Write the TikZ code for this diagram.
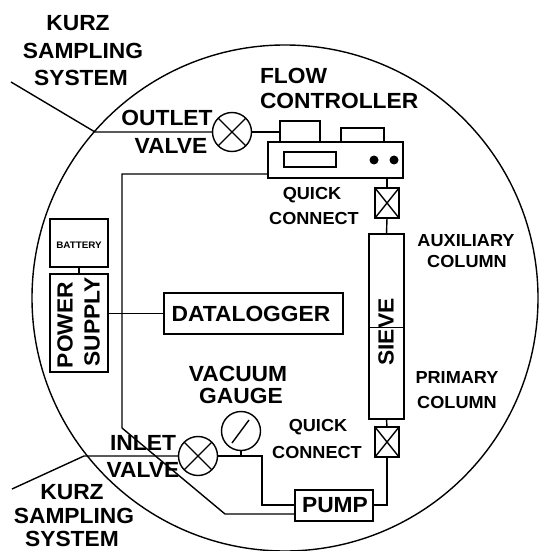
\documentclass[tikz,border=0pt]{standalone}
\usepackage{fontspec}
\setmainfont{Liberation Sans}[BoldFont={Liberation Sans Bold},FakeStretch=1.04]
\usetikzlibrary{calc}
\tikzset{
  every node/.style={inner sep=0pt,outer sep=0pt},
  ln/.style={line width=1.4bp,black},
  big/.style={font=\fontsize{22}{22}\selectfont\bfseries},
  mid/.style={font=\fontsize{17.5}{17.5}\selectfont\bfseries},
  box/.style={draw,ln,rectangle,anchor=north west},
  rnd/.style={draw,ln,circle,minimum size=39bp},
  qc/.style={draw,ln,rectangle,minimum width=24bp,minimum height=30bp},
}
\newcommand{\bx}[6][]{\node[box,#1,minimum width=#4bp,minimum height=#5bp] (#2) at (#3) {#6};}
\begin{document}
\begin{tikzpicture}[x=1bp,y=-1bp]
\useasboundingbox (0,0) rectangle (540,551);
% enclosing circle
\node[draw,ln,circle,minimum size=506bp] (ring) at (285,298) {};
% free ends and junctions
\coordinate (k1) at (11,82);
\coordinate (j1) at (95,132);
\coordinate (k2) at (12,489);
\coordinate (j2) at (84,456);
% valves and gauge
\node[rnd] (ov) at (232,132) {};
\node[rnd] (iv) at (198,456) {};
\node[rnd] (vg) at (241,431) {};
\draw[ln] (ov.north east)--(ov.south west) (ov.north west)--(ov.south east);
\draw[ln] (iv.north east)--(iv.south west) (iv.north west)--(iv.south east);
\draw[ln] ($(vg)+(-9,12)$)--($(vg)+(8,-11)$);
% flow controller
\bx{fc}{268,142}{135}{36}{}
\bx{fb1}{280,121}{40}{21}{}
\bx{fb2}{341,128}{43}{14}{}
\bx{fd}{284,152}{52}{15}{}
\fill (374,160) circle (4.5) (394,160) circle (4.5);
% quick connects
\node[qc] (q1) at (387,203) {};
\node[qc] (q2) at (387,442) {};
\draw[ln] (q1.north west)--(q1.south east) (q1.north east)--(q1.south west);
\draw[ln] (q2.north west)--(q2.south east) (q2.north east)--(q2.south west);
% sieve
\bx{sv}{369,234}{35}{185}{}
\draw[ln,line width=0.8bp] (sv.west|-0,327)--(sv.east|-0,327);
\node[big,rotate=90] (svt) at (386,332) {SIEVE};
% power
\bx{bat}{50,219}{58}{48}{}
\bx{ps}{50,274}{58}{98}{}
\node[font=\fontsize{9.5}{9.5}\selectfont\bfseries] (batt) at (79,245) {BATTERY};
\node[big,rotate=90] (pw) at (65,325) {POWER};
\node[big,rotate=90] (su) at (92,322) {SUPPLY};
% datalogger, pump
\bx{dl}{164,293}{179}{41}{}
\node[big] (dlt) at (251,314) {DATALOGGER};
\bx{pu}{295,490}{78}{31}{}
\node[big] (put) at (335,505) {PUMP};
% connectors
\draw[ln] (k1)--(j1)--(ov.west);
\draw[ln] (k2)--(j2)--(iv.west);
\draw[ln] (ov.east)--(fb1.west|-ov.east);
\draw[ln] (bat.south)--(ps.north);
\draw[ln] (ps.east|-dl.west)--(dl.west);
\draw[ln] (fc.west|-0,174)--(122,174)--(122,428)--(225,514)--(pu.west|-0,514);
\draw[ln] (iv.east)--(262,456)--(262,505)--(pu.west|-0,505);
\draw[ln] (vg.south)--(vg.south|-iv.east);
\draw[ln] (pu.east|-0,505)--(387,505)--(q2.south);
\draw[ln] (q2.north)--(sv.south);
\draw[ln] (sv.north)--(q1.south);
\draw[ln] (q1.north)--(fc.south-|q1.north);
% labels
\node[big] (a1) at (78,23) {KURZ};
\node[big] (a2) at (83,51) {SAMPLING};
\node[big] (a3) at (81,78) {SYSTEM};
\node[big,anchor=west] (b1) at (260,76) {FLOW};
\node[big,anchor=west] (b2) at (260,101) {CONTROLLER};
\node[big] (c1) at (167,118) {OUTLET};
\node[big] (c2) at (171,146) {VALVE};
\node[mid] (d1) at (312,195) {QUICK};
\node[mid] (d2) at (314,218) {CONNECT};
\node[mid] (e1) at (466,241) {AUXILIARY};
\node[mid] (e2) at (467,261) {COLUMN};
\node[mid] (f1) at (457,377) {PRIMARY};
\node[mid] (f2) at (457,402) {COLUMN};
\node[mid] (g1) at (318,427) {QUICK};
\node[mid] (g2) at (317,452) {CONNECT};
\node[big] (h1) at (238,374) {VACUUM};
\node[big] (h2) at (241,396) {GAUGE};
\node[big] (i1) at (143,443) {INLET};
\node[big] (i2) at (143,470) {VALVE};
\node[big] (m1) at (72,492) {KURZ};
\node[big] (m2) at (74,516) {SAMPLING};
\node[big] (m3) at (72,539) {SYSTEM};
\end{tikzpicture}
\end{document}
